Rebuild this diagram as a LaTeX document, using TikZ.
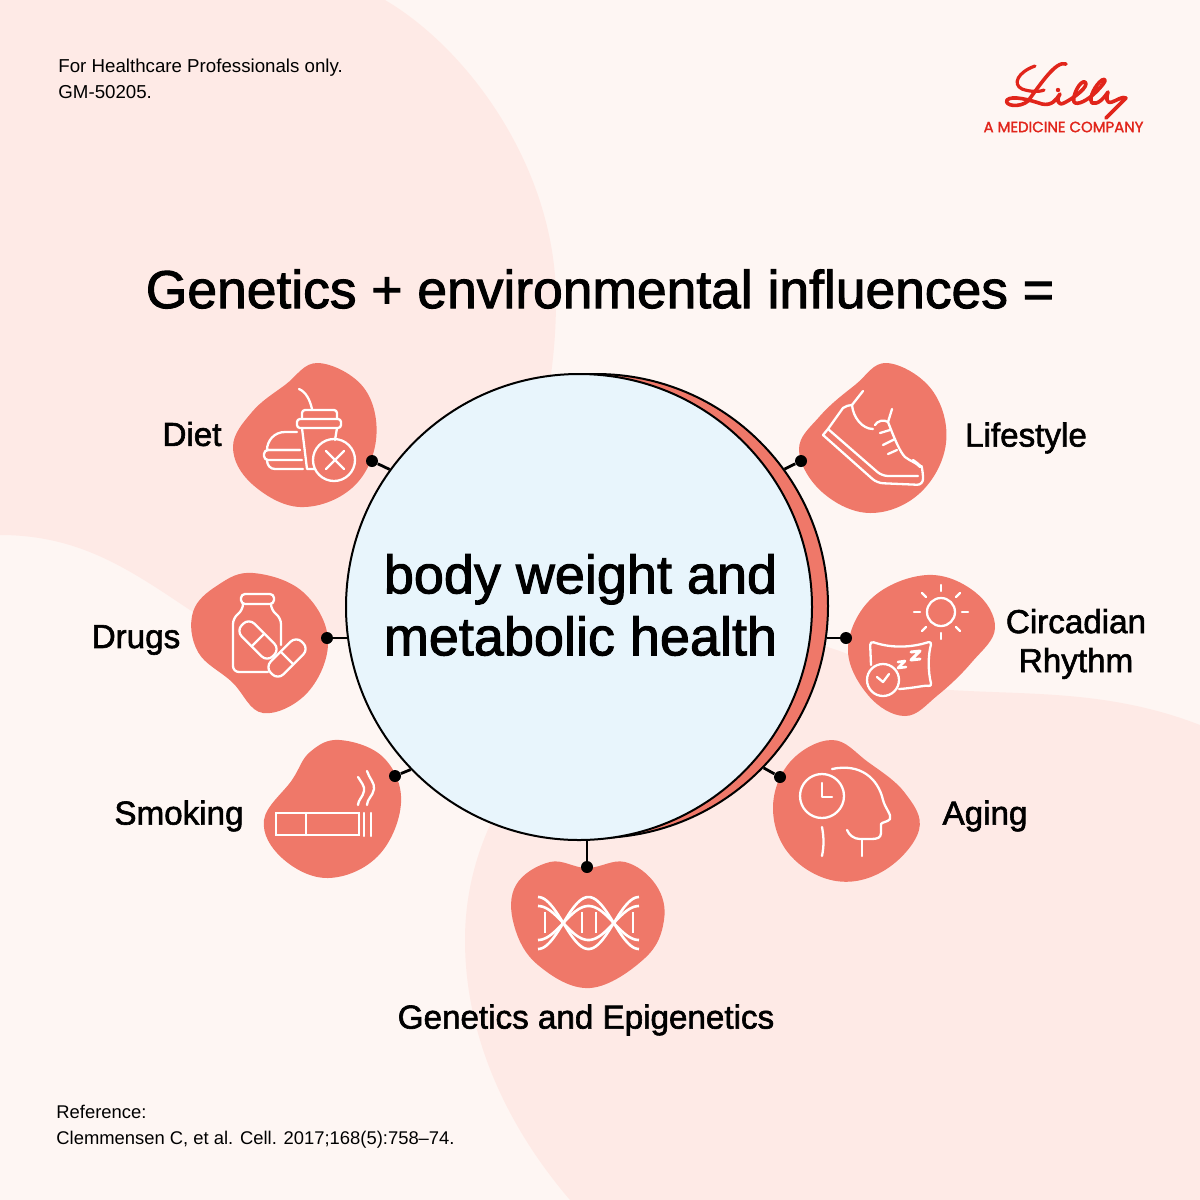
\documentclass[tikz,border=0pt]{standalone}
\usepackage{fontspec}
\setmainfont{Liberation Sans}
\newfontfamily\medfont{Liberation Sans}[RawFeature={embolden=1.8}]
\newfontfamily\logofont{Poppins}[RawFeature={embolden=1.6}]
\usepackage{xcolor}
\usetikzlibrary{calc}
\definecolor{basepink}{HTML}{FEF6F3}
\definecolor{softpink}{HTML}{FEEAE6}
\definecolor{salmon}{HTML}{EF7869}
\definecolor{hubblue}{HTML}{E8F5FC}
\definecolor{lillyred}{HTML}{E1251B}
\begin{document}
\begin{tikzpicture}[
    x=0.5pt, y=-0.5pt,
    blob/.style={fill=salmon, smooth cycle, tension=0.65},
    icon/.style={draw=white, line width=1.15pt, line cap=round, line join=round},
    dotnode/.style={circle, fill=black, minimum size=6pt, inner sep=0pt},
    arr/.style={line width=1.4pt, black},
    small/.style={font=\fontsize{9.35}{13.2}\selectfont, align=left, anchor=west, inner sep=0pt},
    factor/.style={font=\medfont\fontsize{16.6}{19.5}\selectfont, align=center, inner sep=0pt}
  ]
  \useasboundingbox (0,0) rectangle (1200,1200);
  \fill[basepink] (0,0) rectangle (1200,1200);
  \fill[softpink] (0,0) -- (385,0) .. controls (470,50) and (556,170) .. (556,300)
    .. controls (556,480) and (470,640) .. (340,640)
    .. controls (270,640) and (225,632) .. (190,610)
    .. controls (130,570) and (80,535) .. (0,535) -- cycle;
  \fill[softpink] (1200,1200) -- (1200,725) .. controls (1110,690) and (1030,695) .. (950,690)
    .. controls (890,685) and (850,640) .. (780,640)
    .. controls (620,640) and (465,770) .. (465,940)
    .. controls (465,1040) and (510,1130) .. (570,1200) -- cycle;

  \node[small] (note) at (58,79) {For Healthcare Professionals only.\\GM-50205.};
  \node[small, font=\fontsize{9.2}{13.2}\selectfont] (ref) at (56,1127) {Reference:\\Clemmensen C, et al. Cell. 2017;168(5):758--74.};
  \node[font=\medfont\fontsize{26.7}{30}\selectfont, inner sep=0pt] (title) at (600,289) {Genetics + environmental influences =};

  % blobs
  \fill[blob] plot coordinates {(318,363) (364,388) (376,440) (352,488) (300,507) (252,484) (233,447) (252,412) (285,385)};
  \fill[blob] plot coordinates {(887,363) (932,390) (946,443) (920,493) (870,513) (822,492) (799,450) (820,416) (855,385)};
  \fill[blob] plot coordinates {(253,573) (303,592) (328,640) (308,692) (263,713) (232,682) (198,652) (193,612) (218,585)};
  \fill[blob] plot coordinates {(927,575) (975,592) (995,628) (972,662) (938,695) (905,716) (868,695) (848,648) (872,598)};
  \fill[blob] plot coordinates {(340,740) (384,758) (401,803) (378,856) (328,878) (282,858) (264,820) (292,780) (310,752)};
  \fill[blob] plot coordinates {(832,740) (868,762) (905,793) (919,830) (885,870) (836,881) (790,855) (773,808) (790,762)};
  \fill[blob] plot coordinates {(550,862) (587,868) (625,862) (656,885) (664,920) (645,958) (590,988) (538,965) (514,925) (516,885)};

  \node[dotnode] (dietdot) at (372,461) {};
  \node[dotnode] (lifedot) at (801,461) {};
  \node[dotnode] (drugsdot) at (327,638) {};
  \node[dotnode] (rhythmdot) at (846,638) {};
  \node[dotnode] (smokedot) at (395,776) {};
  \node[dotnode] (agingdot) at (780,777) {};
  \node[dotnode] (genedot) at (587,867) {};
  \coordinate (drugsend) at (349,638);
  \coordinate (rhythmend) at (827,638);

  \node[circle, draw=black, line width=1pt, fill=salmon, minimum size=232pt, inner sep=0pt] (moon) at (596,606) {};
  \node[circle, draw=black, line width=1pt, fill=hubblue, minimum size=233pt, inner sep=0pt] (hub) at (579,607) {};
  \node[align=center, inner sep=0pt, font=\medfont\fontsize{27}{31}\selectfont] (hubtext) at (580.5,605) {body weight and\\metabolic health};

  \draw[arr] (dietdot) -- (hub.144);
  \draw[arr] (lifedot) -- (moon.36);
  \draw[arr] (drugsdot) -- (drugsend);
  \draw[arr] (rhythmdot) -- (rhythmend);
  \draw[arr] (smokedot) -- (hub.224);
  \draw[arr] (agingdot) -- (moon.-44);
  \draw[arr] (genedot) -- (genedot |- hub.south);

  \node[factor] (diet) at (192,434) {Diet};
  \node[factor] (life) at (1026,438) {Lifestyle};
  \node[factor] (drugs) at (136,640) {Drugs};
  \node[factor] (rhythm) at (1076,644) {Circadian\\Rhythm};
  \node[factor] (smoke) at (179,816) {Smoking};
  \node[factor] (aging) at (985,816) {Aging};
  \node[factor] (gene) at (586,1020) {Genetics and Epigenetics};

  % diet icon
  \draw[icon] (297,432) -- (285,432) .. controls (274,432) and (267,441) .. (267,450) -- (300,450);
  \draw[icon, rounded corners=2pt] (300,450) -- (264,450) -- (264,460) -- (302,460);
  \draw[icon] (267,460) .. controls (267,465) and (270,469) .. (275,469) -- (303,469);
  \draw[icon, rounded corners=1.5pt] (297,419) rectangle (341,428);
  \draw[icon, rounded corners=1.5pt] (302,419) -- (302,410) -- (337,410) -- (337,419);
  \draw[icon] (302,428) -- (307,469) -- (315,469);
  \draw[icon] (337,428) -- (335,440);
  \draw[icon] (299,389) .. controls (306,392) and (310,400) .. (312,409);
  \draw[icon] (334,460) circle (21);
  \draw[icon] (326,451) -- (344,469) (344,451) -- (326,469);

  % shoe icon
  \draw[icon, rounded corners=3pt] (823,435) -- (877,483) -- (923,485) -- (923,472) .. controls (922,468) and (918,463) .. (913,460);
  \draw[icon, rounded corners=3pt] (828,429) -- (882,476) -- (918,476);
  \draw[icon] (823,435) -- (828,429) -- (843,408) .. controls (846,406) and (849,405) .. (852,405);
  \draw[icon] (852,405) .. controls (853,417) and (862,429) .. (873,429);
  \draw[icon] (852,405) -- (863,391);
  \draw[icon] (875,425) .. controls (877,421) and (884,419) .. (888,422) -- (892,409);
  \draw[icon] (888,422) .. controls (895,440) and (900,452) .. (905,457) .. controls (910,461) and (917,463) .. (920,467);
  \draw[icon] (880,433) -- (890,430) (883,445) -- (895,439) (888,454) -- (897,450);

  % bottle icon
  \draw[icon, rounded corners=2pt] (241,594) rectangle (274,604);
  \draw[icon, rounded corners=3pt] (243,605) -- (243,610) -- (233,618) -- (233,672) -- (268,672);
  \draw[icon, rounded corners=3pt] (271,605) -- (271,610) -- (281,618) -- (281,645);
  \foreach \pillx/\pilly/\pillrot in {258/640/-45, 287/658/45} {
    \begin{scope}[shift={(\pillx,\pilly)}, rotate=\pillrot]
      \draw[icon, rounded corners=4pt] (-22,-9) rectangle (22,9);
      \draw[icon] (0,-9) -- (0,9);
    \end{scope}
  }

  % sun and pillow icon
  \draw[icon] (941,612) circle (14);
  \foreach \rayrot in {0,45,...,315} {
    \draw[icon] ($(941,612)+(\rayrot:21)$) -- ($(941,612)+(\rayrot:27)$);
  }
  \draw[icon, rounded corners=2pt] (871,665) -- (870,641) .. controls (890,648) and (910,648) .. (932,641)
    .. controls (928,655) and (928,672) .. (932,687) .. controls (925,685) and (915,688) .. (899,689);
  \draw[icon] (883,680) circle (16);
  \draw[icon] (877,677) -- (883,682) -- (889,674);
  \draw[icon, line width=1.5pt] (911,652) -- (920,651) -- (911,660) -- (920,659);
  \draw[icon, line width=1.3pt] (898,662) -- (905,661) -- (898,668) -- (906,667);

  % cigarette icon
  \draw[icon, line join=miter] (276,813) rectangle (359,835);
  \draw[icon] (306,813) -- (306,835);
  \draw[icon] (364,813) -- (364,836) (371,813) -- (371,836);
  \draw[icon] (358,777) .. controls (361,782) and (365,786) .. (364,791) .. controls (363,797) and (358,800) .. (358,805);
  \draw[icon] (367,771) .. controls (369,778) and (375,783) .. (374,789) .. controls (373,796) and (367,799) .. (367,805);

  % head and clock icon
  \draw[icon] (822,796) circle (22);
  \draw[icon] (822,783) -- (822,797) -- (832,797);
  \draw[icon] (832,769) .. controls (860,763) and (878,778) .. (883,800)
    .. controls (885,808) and (892,815) .. (890,819) .. controls (888,822) and (882,822) .. (881,824)
    -- (881,833) .. controls (881,838) and (877,839) .. (871,839) -- (860,839)
    .. controls (854,839) and (849,835) .. (847,830);
  \draw[icon] (862,839) -- (862,856);
  \draw[icon] (822,827) .. controls (824,838) and (824,846) .. (822,856);

  % helix icon
  \foreach \wave in {26,-26,17,-17} {
    \draw[icon, line cap=butt, line width=1.3pt] plot[domain=538:639, samples=50, smooth] (\x, {923-\wave*cos((\x-538)/101*360)});
  }
  \foreach \rungx in {545,582,596,633} {
    \draw[icon, line cap=butt] (\rungx,912) -- (\rungx,933);
  }

  % logo
  \draw[lillyred, line width=1.6pt, line cap=round, line join=round]
    (1035,66) .. controls (1018,72) and (1012,84) .. (1022,89) .. controls (1030,92) and (1040,92) .. (1044,90);
  \draw[lillyred, line width=1.8pt, line cap=round, line join=round]
    (1066,64) .. controls (1056,60) and (1040,85) .. (1028,101) .. controls (1020,108) and (1004,106) .. (1007,100)
    .. controls (1012,95) and (1030,100) .. (1042,104) .. controls (1052,106) and (1056,100) .. (1060,94)
    .. controls (1056,100) and (1058,106) .. (1064,103) .. controls (1074,98) and (1090,86) .. (1085,82)
    .. controls (1080,80) and (1072,96) .. (1074,102) .. controls (1077,106) and (1088,100) .. (1096,92)
    .. controls (1108,80) and (1106,78) .. (1102,80) .. controls (1096,84) and (1088,98) .. (1092,103)
    .. controls (1098,105) and (1104,98) .. (1108,92) .. controls (1106,98) and (1106,104) .. (1112,102)
    .. controls (1118,100) and (1122,96) .. (1126,98) .. controls (1120,104) and (1112,112) .. (1106,118);
  \fill[lillyred] (1058,90) circle (2.2);
  \node[font=\logofont\fontsize{7.45}{8}\selectfont, text=lillyred, inner sep=0pt] (tagline) at (1063.5,127) {A MEDICINE COMPANY};
\end{tikzpicture}
\end{document}
